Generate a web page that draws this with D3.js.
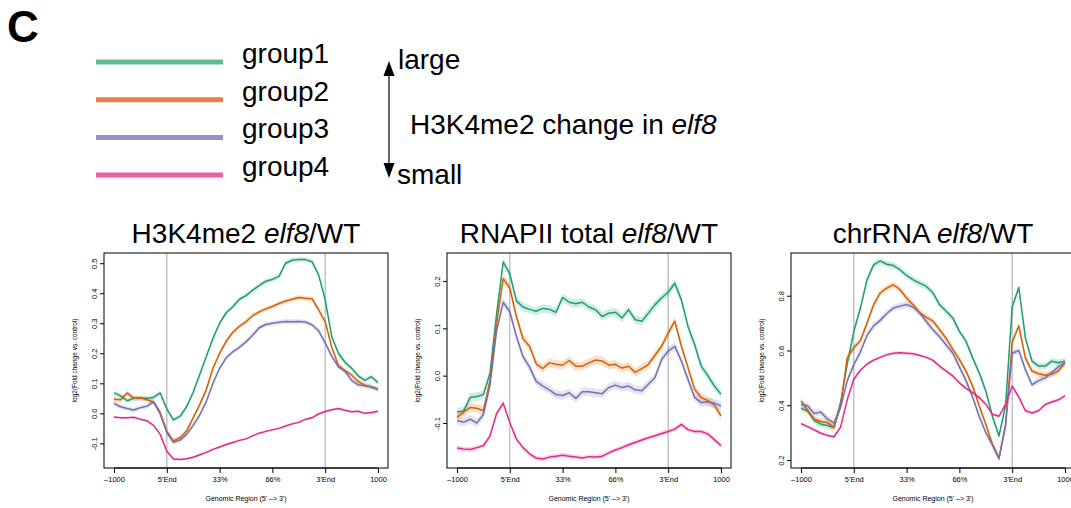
<!DOCTYPE html>
<html>
<head>
<meta charset="utf-8">
<script src="https://cdn.jsdelivr.net/npm/d3@7"></script>
<style>
  body { margin: 0; background: #fff; }
  text { font-family: "Liberation Sans", Arial, Helvetica, sans-serif; }
</style>
</head>
<body>
<div id="chart"></div>
<script>
//********************************************************************//
//                    DATA
//*******************************************************************//

  var groups = ["group1", "group2", "group3", "group4"];
  var groupColors = ["#1b9e77", "#d95f02", "#7570b3", "#e7298a"];
  var legendColors = ["#62b996", "#e5814a", "#9591c6", "#ee5ca1"];

  // 41 bins: 8 upstream, 24 gene body (0-33-66-100%), 8 downstream
  var bins = d3.range(41);
  var tickBins = [0, 8, 16, 24, 32, 40];
  var tickLabels = ["\u20131000", "5'End", "33%", "66%", "3'End", "1000"];

  var panelTitles = ["H3K4me2 ", "RNAPII total ", "chrRNA "];
  var yDomains = [[-0.182, 0.534], [-0.195, 0.259], [0.171, 0.956]];
  var yTicks = [[-0.1, 0.0, 0.1, 0.2, 0.3, 0.4, 0.5], [-0.1, 0.0, 0.1, 0.2], [0.2, 0.4, 0.6, 0.8]];
  var seBands = [[0.008, 0.008, 0.008, 0.004], [0.009, 0.009, 0.009, 0.005], [0.012, 0.012, 0.012, 0.006]];

  // H3K4me2 elf8/WT
  var h3k4_g1 = [0.068,0.058,0.042,0.050,0.050,0.050,0.053,0.068,0.015,-0.022,-0.010,0.022,0.070,0.130,0.190,0.250,0.300,0.335,0.355,0.380,0.392,0.410,0.425,0.440,0.446,0.456,0.500,0.510,0.512,0.512,0.505,0.461,0.378,0.255,0.200,0.170,0.150,0.125,0.110,0.122,0.102];
  var h3k4_g2 = [0.047,0.045,0.068,0.050,0.052,0.045,0.038,0.003,-0.059,-0.092,-0.081,-0.059,-0.015,0.030,0.080,0.150,0.200,0.240,0.270,0.290,0.305,0.325,0.338,0.348,0.356,0.366,0.374,0.380,0.386,0.383,0.382,0.345,0.305,0.220,0.160,0.142,0.128,0.106,0.094,0.088,0.080];
  var h3k4_g3 = [0.033,0.022,0.016,0.011,0.019,0.024,0.038,-0.002,-0.064,-0.096,-0.089,-0.070,-0.040,-0.005,0.040,0.100,0.150,0.185,0.205,0.220,0.238,0.260,0.285,0.296,0.300,0.303,0.306,0.305,0.306,0.304,0.295,0.275,0.235,0.190,0.155,0.140,0.110,0.095,0.092,0.088,0.080];
  var h3k4_g4 = [-0.012,-0.015,-0.015,-0.013,-0.020,-0.025,-0.040,-0.070,-0.126,-0.152,-0.154,-0.151,-0.146,-0.138,-0.130,-0.120,-0.112,-0.104,-0.097,-0.090,-0.085,-0.075,-0.066,-0.060,-0.055,-0.050,-0.042,-0.035,-0.030,-0.020,-0.015,-0.002,0.006,0.012,0.016,0.010,0.005,0.007,0.000,0.003,0.007];

  // RNAPII total elf8/WT
  var pol2_g1 = [-0.076,-0.075,-0.046,-0.044,-0.040,0.005,0.130,0.240,0.215,0.158,0.145,0.140,0.136,0.142,0.140,0.134,0.165,0.155,0.152,0.155,0.145,0.139,0.125,0.132,0.134,0.122,0.139,0.118,0.115,0.132,0.150,0.164,0.176,0.195,0.160,0.104,0.066,0.020,0.000,-0.022,-0.039];
  var pol2_g2 = [-0.088,-0.077,-0.067,-0.069,-0.074,-0.010,0.110,0.205,0.185,0.125,0.078,0.062,0.025,0.015,0.027,0.024,0.022,0.032,0.020,0.020,0.027,0.033,0.031,0.022,0.024,0.016,0.020,0.007,0.015,0.024,0.043,0.062,0.090,0.115,0.062,0.017,-0.029,-0.046,-0.053,-0.062,-0.085];
  var pol2_g3 = [-0.095,-0.098,-0.092,-0.100,-0.082,-0.020,0.095,0.155,0.135,0.083,0.040,0.018,-0.012,-0.022,-0.030,-0.040,-0.042,-0.036,-0.048,-0.034,-0.034,-0.036,-0.038,-0.025,-0.020,-0.025,-0.022,-0.030,-0.032,-0.018,-0.004,0.034,0.052,0.062,0.031,-0.008,-0.046,-0.057,-0.055,-0.058,-0.064];
  var pol2_g4 = [-0.153,-0.155,-0.156,-0.152,-0.148,-0.127,-0.080,-0.058,-0.099,-0.134,-0.152,-0.165,-0.174,-0.176,-0.172,-0.170,-0.168,-0.170,-0.172,-0.174,-0.171,-0.172,-0.170,-0.163,-0.157,-0.152,-0.146,-0.141,-0.136,-0.131,-0.127,-0.122,-0.118,-0.113,-0.103,-0.114,-0.118,-0.118,-0.123,-0.135,-0.148];

  // chrRNA elf8/WT
  var chr_g1 = [0.389,0.379,0.345,0.331,0.326,0.319,0.410,0.549,0.670,0.755,0.858,0.913,0.927,0.915,0.910,0.895,0.874,0.858,0.846,0.834,0.810,0.767,0.743,0.719,0.670,0.634,0.573,0.519,0.452,0.360,0.288,0.400,0.760,0.830,0.646,0.561,0.543,0.543,0.561,0.555,0.561];
  var chr_g2 = [0.416,0.382,0.349,0.341,0.337,0.319,0.398,0.573,0.610,0.636,0.700,0.767,0.810,0.828,0.840,0.822,0.792,0.767,0.737,0.721,0.707,0.676,0.644,0.604,0.567,0.525,0.470,0.398,0.331,0.258,0.207,0.330,0.630,0.690,0.573,0.525,0.515,0.510,0.513,0.525,0.555];
  var chr_g3 = [0.404,0.398,0.370,0.375,0.350,0.335,0.392,0.489,0.548,0.595,0.655,0.690,0.710,0.735,0.755,0.762,0.768,0.758,0.738,0.705,0.676,0.650,0.620,0.590,0.540,0.490,0.430,0.360,0.300,0.255,0.205,0.326,0.590,0.600,0.530,0.475,0.490,0.500,0.520,0.540,0.555];
  var chr_g4 = [0.333,0.322,0.310,0.298,0.290,0.285,0.320,0.420,0.495,0.528,0.550,0.565,0.575,0.585,0.590,0.592,0.590,0.588,0.582,0.575,0.564,0.543,0.525,0.507,0.482,0.462,0.446,0.428,0.404,0.367,0.360,0.404,0.470,0.430,0.380,0.372,0.380,0.403,0.412,0.420,0.434];

  var panelSeries = [[h3k4_g1, h3k4_g2, h3k4_g3, h3k4_g4],
                     [pol2_g1, pol2_g2, pol2_g3, pol2_g4],
                     [chr_g1, chr_g2, chr_g3, chr_g4]];

//********************************************************************//
//                    LAYOUT
//*******************************************************************//

var svg = d3.select("#chart").append("svg")
    .attr("width", 1071)
    .attr("height", 508);

// panel letter
svg.append("text")
   .attr("x", 7).attr("y", 42)
   .style("font-size", "44px").style("font-weight", "bold")
   .text("C");

// legend
var legend = svg.append("g");
legend.selectAll("line")
  .data(groups)
  .enter()
  .append("line")
    .attr("x1", 96).attr("x2", 223)
    .attr("y1", function(d, i) { return 62 + i * 37.7; })
    .attr("y2", function(d, i) { return 62 + i * 37.7; })
    .attr("stroke", function(d, i) { return legendColors[i]; })
    .attr("stroke-width", 5);
legend.selectAll("text")
  .data(groups)
  .enter()
  .append("text")
    .attr("x", 242)
    .attr("y", function(d, i) { return 63 + i * 37.7; })
    .style("font-size", "28px")
    .text(function(d) { return d; });

// arrow  large <-> small
svg.append("line")
   .attr("x1", 389).attr("x2", 389)
   .attr("y1", 75).attr("y2", 164)
   .attr("stroke", "#000").attr("stroke-width", 1.2);
svg.append("path")
   .attr("d", "M383.5,76 L389,61 L394.5,76 Z M383.5,163 L389,178 L394.5,163 Z")
   .attr("fill", "#000");
svg.append("text").attr("x", 398).attr("y", 69).style("font-size", "28px").text("large");
svg.append("text").attr("x", 397).attr("y", 184).style("font-size", "28px").text("small");
var note = svg.append("text").attr("x", 410).attr("y", 134).style("font-size", "28px");
note.append("tspan").text("H3K4me2 change in ");
note.append("tspan").style("font-style", "italic").text("elf8");

//********************************************************************//
//                    PANELS
//*******************************************************************//

var panelLeft = [104, 447, 791];
var boxW = 284, boxTop = 253, boxBot = 468;

panelSeries.forEach(function(series, p) {
  var left = panelLeft[p];
  var g = svg.append("g");

  var x = d3.scaleLinear()
            .domain([0, bins.length - 1])
            .range([left + 10, left + boxW - 10]);
  var y = d3.scaleLinear()
            .domain(yDomains[p])
            .range([boxBot, boxTop]);

  // title
  var t = g.append("text")
     .attr("x", left + boxW / 2).attr("y", 243)
     .attr("text-anchor", "middle")
     .style("font-size", "28px");
  t.append("tspan").text(panelTitles[p]);
  t.append("tspan").style("font-style", "italic").text("elf8");
  t.append("tspan").text("/WT");

  // gene boundaries
  g.selectAll("line.bound")
    .data([8, 32])
    .enter()
    .append("line")
      .attr("x1", function(d) { return x(d); })
      .attr("x2", function(d) { return x(d); })
      .attr("y1", boxTop).attr("y2", boxBot)
      .attr("stroke", "#b4b4b4").attr("stroke-width", 1.2);

  // ribbons then lines
  series.forEach(function(vals, k) {
    var se = seBands[p][k];
    var area = d3.area()
       .x(function(d, i) { return x(bins[i]); })
       .y0(function(d) { return y(d - se); })
       .y1(function(d) { return y(d + se); });
    g.append("path")
       .datum(vals)
       .attr("d", area)
       .attr("fill", groupColors[k])
       .attr("fill-opacity", 0.2);
  });
  series.forEach(function(vals, k) {
    var line = d3.line()
       .x(function(d, i) { return x(bins[i]); })
       .y(function(d) { return y(d); });
    g.append("path")
       .datum(vals)
       .attr("d", line)
       .attr("fill", "none")
       .attr("stroke", groupColors[k])
       .attr("stroke-width", 1.5)
       .attr("stroke-linejoin", "round");
  });

  // box
  g.append("rect")
     .attr("x", left).attr("y", boxTop)
     .attr("width", boxW).attr("height", boxBot - boxTop)
     .attr("fill", "none").attr("stroke", "#000").attr("stroke-width", 1);

  // x axis
  var xAxis = g.append("g")
     .attr("transform", "translate(0," + boxBot + ")")
     .call(d3.axisBottom(x)
             .tickValues(tickBins)
             .tickSize(5)
             .tickPadding(4)
             .tickFormat(function(d, i) { return tickLabels[i]; }));
  xAxis.select(".domain").attr("d", "M" + x(0) + ",0H" + x(40));
  xAxis.selectAll("text").style("font-size", "7.5px")
       .style("font-family", "Liberation Sans, Arial, sans-serif");

  // y axis, labels turned like R's las = 0
  var yAxis = g.append("g")
     .attr("transform", "translate(" + left + ",0)")
     .call(d3.axisLeft(y)
             .tickValues(yTicks[p])
             .tickSize(4));
  yAxis.select(".domain").remove();
  yAxis.selectAll("text")
       .attr("transform", "rotate(-90)")
       .attr("x", 0)
       .attr("y", -7)
       .attr("dy", 0)
       .attr("text-anchor", "middle")
       .style("font-size", "7.5px")
       .style("font-family", "Liberation Sans, Arial, sans-serif")
       .text(function(d) { return d3.format(".1f")(d).replace("\u2212", "-"); });

  // axis titles
  g.append("text")
     .attr("x", left + boxW / 2).attr("y", 501)
     .attr("text-anchor", "middle")
     .style("font-size", "7px")
     .text("Genomic Region (5' \u2013> 3')");
  g.append("text")
     .attr("transform", "translate(" + (left - 27) + "," + ((boxTop + boxBot) / 2) + ") rotate(-90)")
     .attr("text-anchor", "middle")
     .style("font-size", "6.5px")
     .text("log2(Fold change vs. control)");
});
</script>
</body>
</html>
